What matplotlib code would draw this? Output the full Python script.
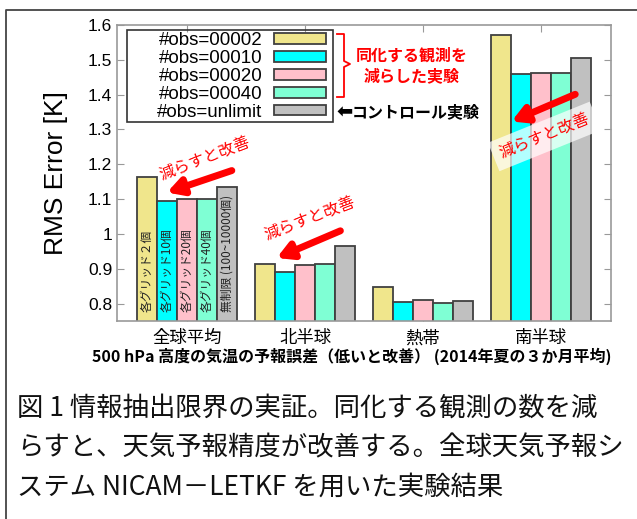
import numpy as np
import matplotlib
matplotlib.use("Agg")
import matplotlib.pyplot as plt
from matplotlib.lines import Line2D
from matplotlib.patches import Rectangle

# data
regions = ["全球平均", "北半球", "熱帯", "南半球"]
series_labels = ["#obs=00002", "#obs=00010", "#obs=00020", "#obs=00040", "#obs=unlimit"]
obs_2 = [1.163, 0.915, 0.849, 1.572]
obs_10 = [1.094, 0.892, 0.804, 1.459]
obs_20 = [1.101, 0.910, 0.810, 1.463]
obs_40 = [1.100, 0.914, 0.801, 1.462]
obs_unlimit = [1.135, 0.964, 0.808, 1.505]
bar_notes = ["各グリッド２個", "各グリッド10個", "各グリッド20個", "各グリッド40個", "無制限 (100~10000個)"]
colors = ["#f0e68c", "#00ffff", "#ffc0cb", "#7fffd4", "#c0c0c0"]

W, H = 637, 519
jp = ["Noto Sans CJK JP", "DejaVu Sans"]
plt.rcParams["font.family"] = ["Liberation Sans", "Noto Sans CJK JP", "DejaVu Sans"]


def fx(x):
    return x / W


def fy(y):
    return 1 - y / H


fig = plt.figure(figsize=(W / 100, H / 100), dpi=100)
ax = fig.add_axes([fx(117), fy(321), fx(611) - fx(117), fy(25) - fy(321)])

x = np.arange(len(regions))
width = 0.17
all_series = [obs_2, obs_10, obs_20, obs_40, obs_unlimit]
for i, vals in enumerate(all_series):
    ax.bar(x + (i - 2) * width, vals, width, color=colors[i], edgecolor="#404040",
           linewidth=1.3, label=series_labels[i], zorder=2)
    # vertical notes inside the global-mean bars
    ax.text(x[0] + (i - 2) * width, 0.776, bar_notes[i], rotation=90, ha="center", va="bottom",
            fontsize=8.5, family=jp, color="#222222", zorder=3)

ax.set_xlim(-0.593, 3.593)
ax.set_ylim(0.75, 1.6)
ax.set_yticks(np.round(np.arange(0.8, 1.61, 0.1), 1))
ax.set_yticklabels(["0.8", "0.9", "1", "1.1", "1.2", "1.3", "1.4", "1.5", "1.6"])
ax.set_xticks(x)
ax.set_xticklabels(regions, family=jp, fontsize=12)
ax.tick_params(direction="in", top=True, right=True, length=5, color="#999999", labelsize=12.5)
ax.tick_params(axis="x", pad=6)
for s in ax.spines.values():
    s.set_color("#999999")
    s.set_linewidth(1.2)
ax.set_ylabel("RMS Error [K]", fontsize=19, labelpad=14)

# legend without its own frame; the gnuplot-like box is drawn separately
leg = ax.legend(loc="upper right", bbox_to_anchor=(fx(326), fy(32)), bbox_transform=fig.transFigure,
                markerfirst=False, fontsize=13.5, handlelength=2.8, handleheight=0.5,
                labelspacing=0.05, borderpad=0, handletextpad=0.6, frameon=False, borderaxespad=0)
fig.add_artist(Rectangle((fx(127), fy(122)), fx(333) - fx(127), fy(30) - fy(122),
                         transform=fig.transFigure, fill=False, edgecolor="#333333", lw=1.2))

# red arrows "減らすと改善"
arrows = [((0.38, 1.182), (-0.17, 1.119)), ((1.30, 1.009), (0.76, 0.931)), ((3.29, 1.401), (2.75, 1.323))]
for start, end in arrows:
    ax.annotate("", xy=end, xytext=start, zorder=5,
                arrowprops=dict(arrowstyle="-|>,head_length=0.9,head_width=0.5", color="red", lw=5,
                                shrinkA=0, shrinkB=0))
ax.text(0.15, 1.214, "減らすと改善", rotation=21, color="red", fontsize=11.5, family=jp,
        ha="center", va="center", zorder=5)
ax.text(1.04, 1.041, "減らすと改善", rotation=21, color="red", fontsize=11.5, family=jp,
        ha="center", va="center", zorder=5)
ax.text(3.03, 1.28, "減らすと改善", rotation=22, color="red", fontsize=11.5, family=jp,
        ha="center", va="center", zorder=5,
        bbox=dict(facecolor="white", edgecolor="none", alpha=0.7, pad=5))

# red bracket and notes next to the legend
bx = [337, 344, 344, 350, 344, 344, 337]
by = [34, 34, 61, 64, 67, 97, 97]
fig.add_artist(Line2D([fx(v) for v in bx], [fy(v) for v in by], color="red", lw=1.3))
fig.text(fx(412), fy(56), "同化する観測を", color="red", fontsize=11.5, fontweight="bold",
         family=jp, ha="center", va="center")
fig.text(fx(412), fy(76), "減らした実験", color="red", fontsize=11.5, fontweight="bold",
         family=jp, ha="center", va="center")
fig.text(fx(336), fy(112), "⬅", color="black", fontsize=14, fontweight="bold",
         family="DejaVu Sans", ha="left", va="center")
fig.text(fx(352), fy(112), "コントロール実験", color="black", fontsize=11.5, fontweight="bold",
         family=jp, ha="left", va="center")

fig.text(fx(352), fy(356), "500 hPa 高度の気温の予報誤差（低いと改善） (2014年夏の３か月平均)",
         fontsize=11.5, fontweight="bold", family=jp, ha="center", va="center")

# caption
caption = ["図 1 情報抽出限界の実証。同化する観測の数を減",
           "らすと、天気予報精度が改善する。全球天気予報シ",
           "ステム NICAM－LETKF を用いた実験結果"]
for k, line in enumerate(caption):
    fig.text(fx(17), fy(408 + k * 39.5), line, fontsize=19, family=jp, ha="left", va="center",
             color="#111111")

# outer frame (top and left edges)
fig.add_artist(Line2D([fx(6), fx(6), 1.0], [0.0, fy(10), fy(10)], color="#444444", lw=1.3))

fig.savefig("out.png", dpi=100)
